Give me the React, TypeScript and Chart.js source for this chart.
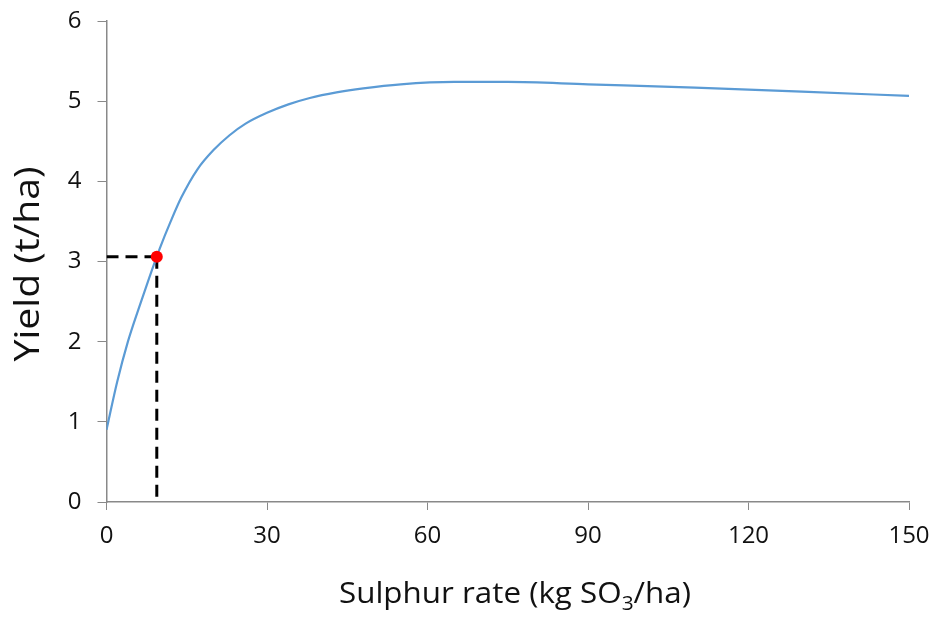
import React, { useEffect, useRef } from "react";
import { Chart, registerables } from "chart.js";

Chart.register(...registerables);

// Data
const rates = [0, 2, 4, 6, 8, 10, 12, 14, 17, 20, 23, 26, 30, 34, 38, 43, 48, 55, 65, 75, 90, 110, 130, 150];
const yields = [0.9, 1.5, 2.0, 2.41, 2.8, 3.17, 3.5, 3.8, 4.15, 4.39, 4.575, 4.72, 4.855, 4.96, 5.04, 5.11, 5.16, 5.21, 5.24, 5.24, 5.21, 5.17, 5.12, 5.065];
const markerRate = 9.4;
const markerYield = 3.06;
const xTickValues = [0, 30, 60, 90, 120, 150];
const yTickValues = [0, 1, 2, 3, 4, 5, 6];
const xTitleMain = "Sulphur rate (kg SO";
const xTitleSub = "3";
const xTitleEnd = "/ha)";
const yTitle = "Yield (t/ha)";

const FONT = "'Open Sans', 'Noto Sans', sans-serif";
const AXIS_COLOR = "#898989";
const TEXT_COLOR = "#111111";

const titlesPlugin = {
  id: "axisTitles",
  afterDraw(chart: any) {
    const ctx = chart.ctx as CanvasRenderingContext2D;
    ctx.save();
    ctx.fillStyle = TEXT_COLOR;
    ctx.textBaseline = "alphabetic";
    // x title with subscript
    const mainFont = `30px ${FONT}`;
    const subFont = `20px ${FONT}`;
    ctx.font = mainFont;
    const w1 = ctx.measureText(xTitleMain).width;
    const w3 = ctx.measureText(xTitleEnd).width;
    ctx.font = subFont;
    const w2 = ctx.measureText(xTitleSub).width;
    const total = w1 + w2 + w3;
    const sx = 352 / total;
    ctx.translate(515, 603);
    ctx.scale(sx, 1);
    let x = -total / 2;
    ctx.textAlign = "left";
    ctx.font = mainFont;
    ctx.fillText(xTitleMain, x, 0);
    x += w1;
    ctx.font = subFont;
    ctx.fillText(xTitleSub, x, 7);
    x += w2;
    ctx.font = mainFont;
    ctx.fillText(xTitleEnd, x, 0);
    ctx.restore();

    // y title
    ctx.save();
    ctx.fillStyle = TEXT_COLOR;
    const yFont = `35px ${FONT}`;
    ctx.font = yFont;
    const yw = ctx.measureText(yTitle).width;
    ctx.textAlign = "center";
    ctx.textBaseline = "middle";
    ctx.translate(29, 264);
    ctx.rotate(-Math.PI / 2);
    ctx.scale(195 / yw, 1);
    ctx.fillText(yTitle, 0, 0);
    ctx.restore();
  },
};

export default function App() {
  const ref = useRef<HTMLCanvasElement | null>(null);

  useEffect(() => {
    document.body.style.margin = "0";
    const canvas = ref.current;
    if (!canvas) return;
    const curve = rates.map((r, i) => ({ x: r, y: yields[i] }));
    const chart = new Chart(canvas, {
      type: "line",
      data: {
        datasets: [
          {
            data: [{ x: markerRate, y: markerYield }],
            showLine: false,
            pointRadius: 6,
            pointBackgroundColor: "#ff0000",
            pointBorderColor: "#ff0000",
            pointBorderWidth: 0,
            order: 0,
          },
          {
            data: curve,
            borderColor: "#5B9BD5",
            borderWidth: 2.2,
            pointRadius: 0,
            cubicInterpolationMode: "monotone",
            fill: false,
            order: 1,
          },
          {
            data: [
              { x: markerRate, y: markerYield },
              { x: markerRate, y: 0 },
            ],
            borderColor: "#000000",
            borderWidth: 3,
            borderDash: [12, 7],
            pointRadius: 0,
            fill: false,
            order: 2,
          },
          {
            data: [
              { x: 0, y: markerYield },
              { x: markerRate, y: markerYield },
            ],
            borderColor: "#000000",
            borderWidth: 3,
            borderDash: [12, 7],
            pointRadius: 0,
            fill: false,
            order: 2,
          },
        ],
      },
      options: {
        responsive: false,
        animation: false,
        layout: { padding: { top: 21, right: 28, left: 0, bottom: 0 } },
        plugins: {
          legend: { display: false },
          tooltip: { enabled: false },
          title: { display: false },
        },
        scales: {
          x: {
            type: "linear",
            min: 0,
            max: 150,
            afterBuildTicks: (s: any) => {
              s.ticks = xTickValues.map((v) => ({ value: v }));
            },
            afterFit: (s: any) => {
              s.height = 115;
              s.paddingLeft = 0;
              s.paddingRight = 0;
            },
            grid: {
              drawOnChartArea: false,
              drawTicks: true,
              tickLength: 8,
              color: AXIS_COLOR,
              lineWidth: 1,
            },
            border: { display: true, color: AXIS_COLOR, width: 1.5 },
            ticks: {
              color: TEXT_COLOR,
              font: { family: FONT, size: 24 },
              padding: 12,
              maxRotation: 0,
            },
          },
          y: {
            type: "linear",
            min: 0,
            max: 6,
            afterBuildTicks: (s: any) => {
              s.ticks = yTickValues.map((v) => ({ value: v }));
            },
            afterFit: (s: any) => {
              s.width = 106.5;
              s.paddingTop = 0;
              s.paddingBottom = 0;
            },
            grid: {
              drawOnChartArea: false,
              drawTicks: true,
              tickLength: 9,
              color: AXIS_COLOR,
              lineWidth: 1,
            },
            border: { display: true, color: AXIS_COLOR, width: 1.5 },
            ticks: {
              color: TEXT_COLOR,
              font: { family: FONT, size: 24 },
              padding: 16,
            },
          },
        },
      },
      plugins: [titlesPlugin],
    });
    return () => chart.destroy();
  }, []);

  return (
    <div style={{ width: 937, height: 617, background: "#fff" }}>
      <canvas ref={ref} width={937} height={617} style={{ display: "block" }} />
    </div>
  );
}
